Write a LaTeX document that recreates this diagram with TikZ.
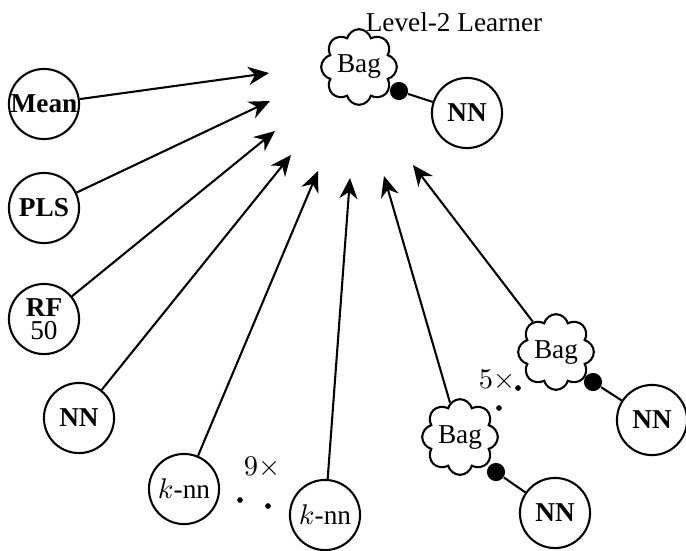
\documentclass[tikz,border=0pt]{standalone}
\usepackage{fontspec}
\setmainfont{Liberation Serif}
\usetikzlibrary{shapes.symbols,arrows.meta}
\begin{document}
\begin{tikzpicture}
[x=0.385pt,y=-0.385pt,font=\fontsize{10.5pt}{12pt}\selectfont,
  nodedecorate/.style={shape=circle,inner sep=0pt,minimum size=27pt,draw,thick},%
  clouddecorate/.style={shape=cloud,cloud puffs=8,aspect=1,inner sep=0pt,
    minimum width=28pt,minimum height=27pt,draw,thick},%
  dotdecorate/.style={shape=circle,inner sep=0pt,minimum size=7pt,fill},%
  smalldotdecorate/.style={shape=circle,inner sep=0pt,minimum size=2.2pt,fill},%
  arrowdecorate/.style={-{Stealth[length=8pt,width=7pt]},thick},%
  linedecorate/.style={thick}]
\useasboundingbox (0,0) rectangle (686,550);
\node (title) at (454,22) {Level-2 Learner};
%% nodes or vertices
\foreach \nodename/\x/\y/\txt in {mean/44/104/Mean, pls/44/208/PLS,
  nna/79/418/NN, nnb/467/113/NN, nnc/555/513/NN, nnd/652/420/NN} {
  \node (\nodename) at (\x,\y) [nodedecorate] {\textbf{\txt}};
}
\node (rf) at (44,319) [nodedecorate,align=center] {\textbf{RF}\\[-3pt]50};
\foreach \nodename/\x/\y in {knna/184/489, knnb/325/515} {
  \node (\nodename) at (\x,\y) [nodedecorate] {$k$-nn};
}
\foreach \nodename/\x/\y in {bagb/359/67, bagc/460/437, bagd/556/352} {
  \node (\nodename) at (\x,\y) [clouddecorate] {Bag};
}
\foreach \nodename/\x/\y in {dotb/399/91, dotc/496/472, dotd/593/382} {
  \node (\nodename) at (\x,\y) [dotdecorate] {};
}
%% repeats
\node (ninetimes) at (262,468) {$9\times$};
\node (fivetimes) at (497,381) {$5\times$};
\foreach \nodename/\x/\y in {ka/240/500, kb/268/506, ba/518/388, bb/499/408} {
  \node (\nodename) at (\x,\y) [smalldotdecorate] {};
}
%% arrow tips
\foreach \tipname/\x/\y in {ta/269/73, tb/270/101, tc/275/131, td/291/155,
  te/318/171, tf/350/178, tg/384/176, th/413/165} {
  \coordinate (\tipname) at (\x,\y);
}
%% edges or lines
\path
\foreach \startnode/\endnode in {mean/ta, pls/tb, rf/tc, nna/td, knna/te,
  knnb/tf, bagc/tg, bagd/th} {
  (\startnode) edge[arrowdecorate] (\endnode)
};
\path
\foreach \startnode/\endnode in {dotb/nnb, dotc/nnc, dotd/nnd} {
  (\startnode) edge[linedecorate] (\endnode)
};
\end{tikzpicture}
\end{document}
